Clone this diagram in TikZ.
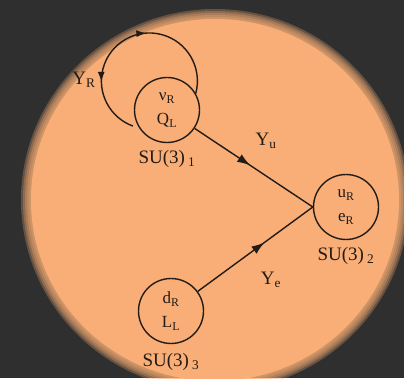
\documentclass[tikz,border=0pt]{standalone}
\usepackage{fontspec}
\setmainfont{Liberation Serif}
\usetikzlibrary{arrows.meta,positioning,decorations.markings}
\definecolor{slate}{RGB}{47,47,47}
\definecolor{peach}{RGB}{248,174,118}
\definecolor{ink}{RGB}{35,28,22}
\tikzset{
  group/.style={circle,draw=ink,line width=1.4pt,minimum size=65pt,inner sep=0pt,align=center,text=ink,font=\fontsize{17}{24}\selectfont},
  gname/.style={inner sep=0pt,text=ink,font=\fontsize{19}{21}\selectfont},
  yuk/.style={draw=ink,line width=1.4pt},
  midarr/.style={yuk,postaction={decorate},decoration={markings,mark=at position #1 with {\arrow{Latex[length=13pt,width=9pt]}}}},
  looparr/.style={yuk,postaction={decorate},decoration={markings,
    mark=at position 0.41 with {\arrowreversed{Latex[length=10pt,width=7pt]}},
    mark=at position 0.74 with {\arrow{Latex[length=10pt,width=7pt]}}}}
}

\begin{document}
\begin{tikzpicture}[x=1pt,y=1pt]
  \useasboundingbox (0,0) rectangle (404,378);
  % backdrop and soft glow
  \fill[slate] (0,0) rectangle (404,378);
  \foreach \r in {180,182,...,194}
    \fill[peach,opacity=0.28] (215,178) ellipse [x radius=\r*1pt, y radius=\r*1pt-3pt];
  \fill[peach] (215,178) ellipse [x radius=184pt, y radius=181pt];

  \node[group] (c1) at (167,268) {ν\textsubscript{R}\\Q\textsubscript{L}};
  \node[group] (c2) at (346,171) {u\textsubscript{R}\\e\textsubscript{R}};
  \node[group] (c3) at (171,67) {d\textsubscript{R}\\L\textsubscript{L}};
  \node[gname,below=7pt of c1] (su1) {SU(3)\,\textsubscript{1}};
  \node[gname,below=7pt of c2] (su2) {SU(3)\,\textsubscript{2}};
  \node[gname,below=9pt of c3] (su3) {SU(3)\,\textsubscript{3}};

  \draw[midarr=0.47] (c1) -- (c2.west);
  \draw[midarr=0.58] (c3) -- (c2.west);
  \draw[looparr] (c1.30) arc[start angle=-15,end angle=250,radius=48pt];

  \node[gname] (yu) at (266,237) {Y\textsubscript{u}};
  \node[gname] (ye) at (271,98) {Y\textsubscript{e}};
  \node[gname] (yr) at (84,298) {Y\textsubscript{R}};
\end{tikzpicture}
\end{document}
